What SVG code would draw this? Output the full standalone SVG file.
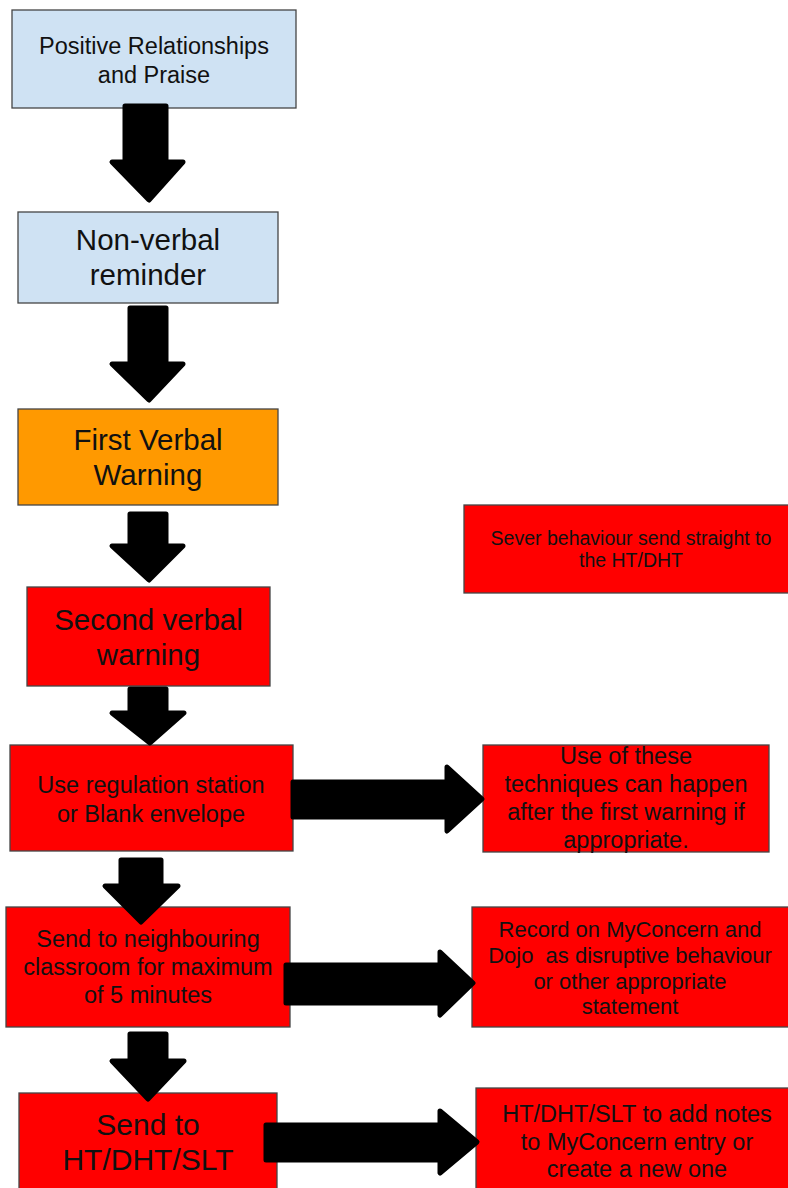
<svg xmlns="http://www.w3.org/2000/svg" width="788" height="1188" viewBox="0 0 788 1188">
<style>
.box{stroke:#454545;stroke-width:1.3}
.blue{fill:#cfe2f3}
.orange{fill:#ff9900}
.red{fill:#ff0000}
text{font-family:"Liberation Sans",Arial,sans-serif;fill:#111;text-anchor:middle}
.arr{fill:#000;stroke:#000;stroke-width:5;stroke-linejoin:round}
</style>
<rect width="788" height="1188" fill="#fff"/>
<g id="n1"><rect class="box blue" x="12" y="10" width="284" height="98"/>
<text font-size="23.5"><tspan x="154" y="54">Positive Relationships</tspan><tspan x="154" y="83">and Praise</tspan></text></g>
<g id="n2"><rect class="box blue" x="18" y="212" width="260" height="91"/>
<text font-size="29.5"><tspan x="148" y="250">Non-verbal</tspan><tspan x="148" y="285">reminder</tspan></text></g>
<g id="n3"><rect class="box orange" x="18" y="409" width="260" height="96"/>
<text font-size="29.5"><tspan x="148" y="450">First Verbal</tspan><tspan x="148" y="485">Warning</tspan></text></g>
<g id="n4"><rect class="box red" x="27" y="587" width="243" height="99"/>
<text font-size="29.5"><tspan x="148.5" y="630">Second verbal</tspan><tspan x="148.5" y="665">warning</tspan></text></g>
<g id="n_severe"><rect class="box red" x="464" y="505" width="330" height="88"/>
<text font-size="19.5"><tspan x="631" y="545">Sever behaviour send straight to</tspan><tspan x="631" y="567">the HT/DHT</tspan></text></g>
<g id="n5"><rect class="box red" x="10" y="745" width="283" height="106"/>
<text font-size="23.5"><tspan x="151" y="793">Use regulation station</tspan><tspan x="151" y="822">or Blank envelope</tspan></text></g>
<g id="n5r"><rect class="box red" x="483" y="745" width="286" height="107"/>
<text font-size="23.5"><tspan x="626" y="764">Use of these</tspan><tspan x="626" y="792">techniques can happen</tspan><tspan x="626" y="820">after the first warning if</tspan><tspan x="626" y="848">appropriate.</tspan></text></g>
<g id="n6"><rect class="box red" x="6" y="907" width="284" height="120"/>
<text font-size="23.5"><tspan x="148" y="947">Send to neighbouring</tspan><tspan x="148" y="975">classroom for maximum</tspan><tspan x="148" y="1003">of 5 minutes</tspan></text></g>
<g id="n6r"><rect class="box red" x="472" y="907" width="330" height="120"/>
<text font-size="22" xml:space="preserve"><tspan x="630" y="937">Record on MyConcern and</tspan><tspan x="630" y="963">Dojo  as disruptive behaviour</tspan><tspan x="630" y="989">or other appropriate</tspan><tspan x="630" y="1014">statement</tspan></text></g>
<g id="n7"><rect class="box red" x="19" y="1093" width="258" height="110"/>
<text font-size="30"><tspan x="148" y="1135">Send to</tspan><tspan x="148" y="1170">HT/DHT/SLT</tspan></text></g>
<g id="n7r"><rect class="box red" x="476" y="1088" width="330" height="110"/>
<text font-size="23.5"><tspan x="637" y="1122">HT/DHT/SLT to add notes</tspan><tspan x="637" y="1150">to MyConcern entry or</tspan><tspan x="637" y="1177">create a new one</tspan></text></g>
<g id="connectors">
<polygon class="arr" points="125,106 166,106 166,162 183,162 149,200 112,162 125,162"/>
<polygon class="arr" points="130,308 166,308 166,364 183,364 149,400 112,364 130,364"/>
<polygon class="arr" points="130,514 166,514 166,546 183,546 149,580 112,546 130,546"/>
<polygon class="arr" points="130,689 166,689 166,713 184,713 150,743 112,713 130,713"/>
<polygon class="arr" points="121,860 161,860 161,886 178,886 141,922 105,886 121,886"/>
<polygon class="arr" points="130,1034 166,1034 166,1061 184,1061 148,1099 112,1061 130,1061"/>
<polygon class="arr" points="293,782 447,782 447,767 482,799 447,831 447,817 293,817"/>
<polygon class="arr" points="286,965 440,965 440,952 473,983 440,1015 440,1003 286,1003"/>
<polygon class="arr" points="266,1125 440,1125 440,1111 477,1142 440,1173 440,1160 266,1160"/>
</g>
</svg>
